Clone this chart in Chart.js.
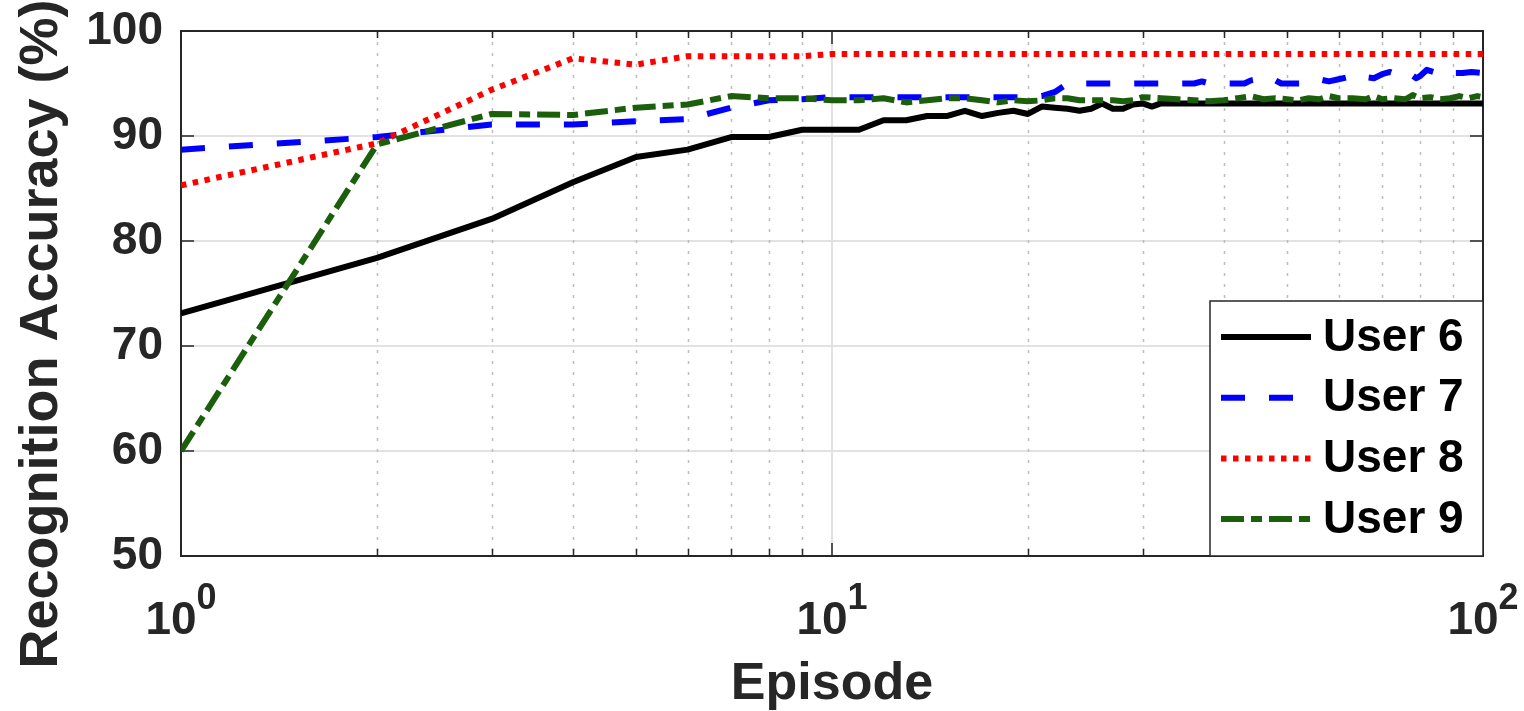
<!DOCTYPE html>
<html>
<head>
<meta charset="utf-8">
<script src="https://cdn.jsdelivr.net/npm/chart.js@4.4.0/dist/chart.umd.min.js"></script>
<style>
html,body{margin:0;padding:0;background:#fff;}
canvas{display:block;}
</style>
</head>
<body>
<canvas id="c" width="1524" height="711"></canvas>
<script>
// ---------------- data ----------------
const seriesNames = ['User 6', 'User 7', 'User 8', 'User 9'];

const episodesUser6 = [1,2,3,4,5,6,7,8,9,10,11,12,13,14,15,16,17,18,19,20,21,22,23,24,25,26,27,28,29,30,31,32,100];
const accuracyUser6 = [73.1,78.4,82.1,85.6,88.0,88.7,89.9,89.9,90.6,90.6,90.6,91.5,91.5,91.9,91.9,92.4,91.9,92.2,92.4,92.1,92.8,92.7,92.6,92.4,92.6,93.1,92.6,92.6,93.0,93.1,92.8,93.1,93.1];

const episodesUser7 = [1,2,3,4,5,6,7,8,9,10,20,21,22,23,36,37,38,43,44,45,47,48,49,53,54,56,58,60,62,63,65,66,68,70,72,74,76,77,79,80,82,84,86,88,90,93,96,100];
const accuracyUser7 = [88.7,89.9,91.1,91.1,91.4,91.6,92.7,93.4,93.5,93.7,93.7,93.8,94.2,95.0,95.0,95.2,95.0,95.0,95.3,95.4,95.6,95.3,95.0,95.0,95.2,95.4,95.2,95.4,95.6,95.5,95.8,95.6,95.5,95.9,96.1,95.8,95.8,96.0,95.5,95.7,96.3,96.1,96.2,96.35,96.0,96.0,96.1,96.0];

const episodesUser8 = [1,2,3,4,5,6,7,8,9,10,100];
const accuracyUser8 = [85.3,89.3,94.4,97.4,96.8,97.6,97.6,97.6,97.6,97.8,97.8];

const episodesUser9 = [1,2,3,4,5,6,7,8,9,10,11,12,13,14,15,16,17,18,19,20,21,22,23,24,25,26,27,28,29,30,32,34,36,38,40,42,44,46,48,50,52,54,56,58,60,63,66,68,70,73,76,78,80,83,86,89,92,95,98,100];
const accuracyUser9 = [60.0,89.2,92.1,92.0,92.7,93.0,93.8,93.6,93.6,93.4,93.4,93.6,93.2,93.4,93.6,93.6,93.4,93.2,93.4,93.3,93.4,93.6,93.6,93.4,93.4,93.4,93.4,93.3,93.4,93.7,93.6,93.5,93.4,93.3,93.4,93.6,93.8,93.5,93.6,93.5,93.4,93.6,93.5,93.8,93.6,93.6,93.5,93.8,93.5,93.6,93.5,93.9,93.6,93.7,93.5,93.6,93.8,93.6,93.8,93.7];

const yTickValues = [50,60,70,80,90,100];
const xTickValues = [1,10,100];
const xTickBase = ['10','10','10'];
const xTickExponent = ['0','1','2'];
const xMinorValues = [2,3,4,5,6,7,8,9,20,30,40,50,60,70,80,90];
const xAxisTitle = 'Episode';
const yAxisTitle = 'Recognition Accuracy (%)';

// ---------------- styling ----------------
const FONT = '"Liberation Sans", Arial, Helvetica, sans-serif';
const AXC = '#262626';

function toXY(xs, ys) { return xs.map((x, i) => ({x: x, y: ys[i]})); }

const axesPlugin = {
  id: 'matlabAxes',
  beforeDatasetsDraw(chart) {
    const {ctx, chartArea: a, scales: {x, y}} = chart;
    ctx.save();
    ctx.strokeStyle = '#e2e2e2';
    ctx.lineWidth = 2;
    yTickValues.forEach(v => {
      const py = Math.round(y.getPixelForValue(v));
      ctx.beginPath(); ctx.moveTo(a.left, py); ctx.lineTo(a.right, py); ctx.stroke();
    });
    xTickValues.forEach(v => {
      const px = Math.round(x.getPixelForValue(v));
      ctx.beginPath(); ctx.moveTo(px, a.top); ctx.lineTo(px, a.bottom); ctx.stroke();
    });
    ctx.strokeStyle = '#bdbdbd';
    ctx.lineWidth = 1.5;
    ctx.setLineDash([3, 8]);
    xMinorValues.forEach(v => {
      const px = Math.round(x.getPixelForValue(v)) + 0.5;
      ctx.beginPath(); ctx.moveTo(px, a.top); ctx.lineTo(px, a.bottom); ctx.stroke();
    });
    ctx.setLineDash([]);
    ctx.strokeStyle = AXC;
    ctx.lineWidth = 2;
    ctx.strokeRect(a.left, a.top, a.right - a.left, a.bottom - a.top);
    ctx.lineWidth = 1.5;
    yTickValues.forEach(v => {
      const py = Math.round(y.getPixelForValue(v));
      ctx.beginPath();
      ctx.moveTo(a.left, py); ctx.lineTo(a.left + 13, py);
      ctx.moveTo(a.right, py); ctx.lineTo(a.right - 13, py);
      ctx.stroke();
    });
    xTickValues.forEach(v => {
      const px = Math.round(x.getPixelForValue(v));
      ctx.beginPath();
      ctx.moveTo(px, a.bottom); ctx.lineTo(px, a.bottom - 13);
      ctx.moveTo(px, a.top); ctx.lineTo(px, a.top + 13);
      ctx.stroke();
    });
    xMinorValues.forEach(v => {
      const px = Math.round(x.getPixelForValue(v)) + 0.5;
      ctx.beginPath();
      ctx.moveTo(px, a.bottom); ctx.lineTo(px, a.bottom - 7);
      ctx.moveTo(px, a.top); ctx.lineTo(px, a.top + 7);
      ctx.stroke();
    });
    ctx.restore();
  },
  afterDraw(chart) {
    const {ctx, chartArea: a, scales: {x}} = chart;
    ctx.save();
    ctx.fillStyle = AXC;
    ctx.textBaseline = 'alphabetic';
    ctx.textAlign = 'left';
    xTickValues.forEach((v, i) => {
      const px = x.getPixelForValue(v);
      ctx.font = 'bold 46px ' + FONT;
      const wb = ctx.measureText(xTickBase[i]).width;
      ctx.font = 'bold 36px ' + FONT;
      const we = ctx.measureText(xTickExponent[i]).width;
      const sx = px - (wb + we) / 2;
      ctx.font = 'bold 46px ' + FONT;
      ctx.fillText(xTickBase[i], sx, a.bottom + 78);
      ctx.font = 'bold 36px ' + FONT;
      ctx.fillText(xTickExponent[i], sx + wb, a.bottom + 53);
    });
    ctx.save();
    ctx.translate(42, 334);
    ctx.rotate(-Math.PI / 2);
    ctx.font = 'bold 54px ' + FONT;
    ctx.textAlign = 'center';
    ctx.textBaseline = 'middle';
    ctx.fillText(yAxisTitle, 0, 0);
    ctx.restore();
    const lw = 273, lh = 255;
    const lx = a.right - lw, ly = a.bottom - lh;
    ctx.fillStyle = '#fff';
    ctx.fillRect(lx, ly, lw, lh);
    ctx.strokeStyle = AXC;
    ctx.lineWidth = 1.5;
    ctx.strokeRect(lx, ly, lw, lh);
    chart.data.datasets.forEach((ds, i) => {
      const cy = ly + 36 + i * 60.7;
      ctx.strokeStyle = ds.borderColor;
      ctx.lineWidth = ds.borderWidth;
      ctx.lineCap = 'butt';
      ctx.setLineDash(ds.borderDash || []);
      ctx.beginPath(); ctx.moveTo(lx + 11, cy); ctx.lineTo(lx + 101, cy); ctx.stroke();
      ctx.setLineDash([]);
      ctx.fillStyle = '#000';
      ctx.font = 'bold 46px ' + FONT;
      ctx.textAlign = 'left';
      ctx.textBaseline = 'middle';
      ctx.fillText(ds.label, lx + 113, cy + 1);
    });
    ctx.restore();
  }
};

const common = {pointRadius: 0, pointHoverRadius: 0, tension: 0, fill: false, borderCapStyle: 'butt', borderJoinStyle: 'round', borderWidth: 6};

const chart = new Chart(document.getElementById('c'), {
  type: 'line',
  data: {
    datasets: [
      Object.assign({label: seriesNames[0], data: toXY(episodesUser6, accuracyUser6), borderColor: '#000000', borderDash: [], order: 4}, common),
      Object.assign({label: seriesNames[1], data: toXY(episodesUser7, accuracyUser7), borderColor: '#0000ff', borderDash: [24, 24], order: 3}, common),
      Object.assign({label: seriesNames[2], data: toXY(episodesUser8, accuracyUser8), borderColor: '#ff0000', borderDash: [5.5, 6.5], order: 2}, common),
      Object.assign({label: seriesNames[3], data: toXY(episodesUser9, accuracyUser9), borderColor: '#1b5e0c', borderDash: [23, 7, 11, 7], order: 1}, common)
    ]
  },
  options: {
    responsive: false,
    animation: false,
    devicePixelRatio: 1,
    layout: {padding: {top: 31, right: 41, bottom: 0, left: 0}},
    plugins: {legend: {display: false}, tooltip: {enabled: false}},
    events: [],
    scales: {
      x: {
        type: 'logarithmic', min: 1, max: 100,
        ticks: {display: false},
        grid: {display: false, drawTicks: false},
        border: {display: false},
        title: {display: true, text: xAxisTitle, color: AXC, font: {family: FONT, size: 52, weight: 'bold', lineHeight: 1}, padding: {top: 0, bottom: 0}},
        afterFit(s) { s.height = 155; s.paddingLeft = 0; s.paddingRight = 0; }
      },
      y: {
        type: 'linear', min: 50, max: 100,
        afterBuildTicks(s) { s.ticks = yTickValues.map(v => ({value: v})); },
        ticks: {color: AXC, padding: 18, font: {family: FONT, size: 46, weight: 'bold'}},
        grid: {display: false, drawTicks: false},
        border: {display: false},
        afterFit(s) { s.width = 181; s.paddingTop = 0; s.paddingBottom = 0; }
      }
    }
  },
  plugins: [axesPlugin]
});
</script>
</body>
</html>
